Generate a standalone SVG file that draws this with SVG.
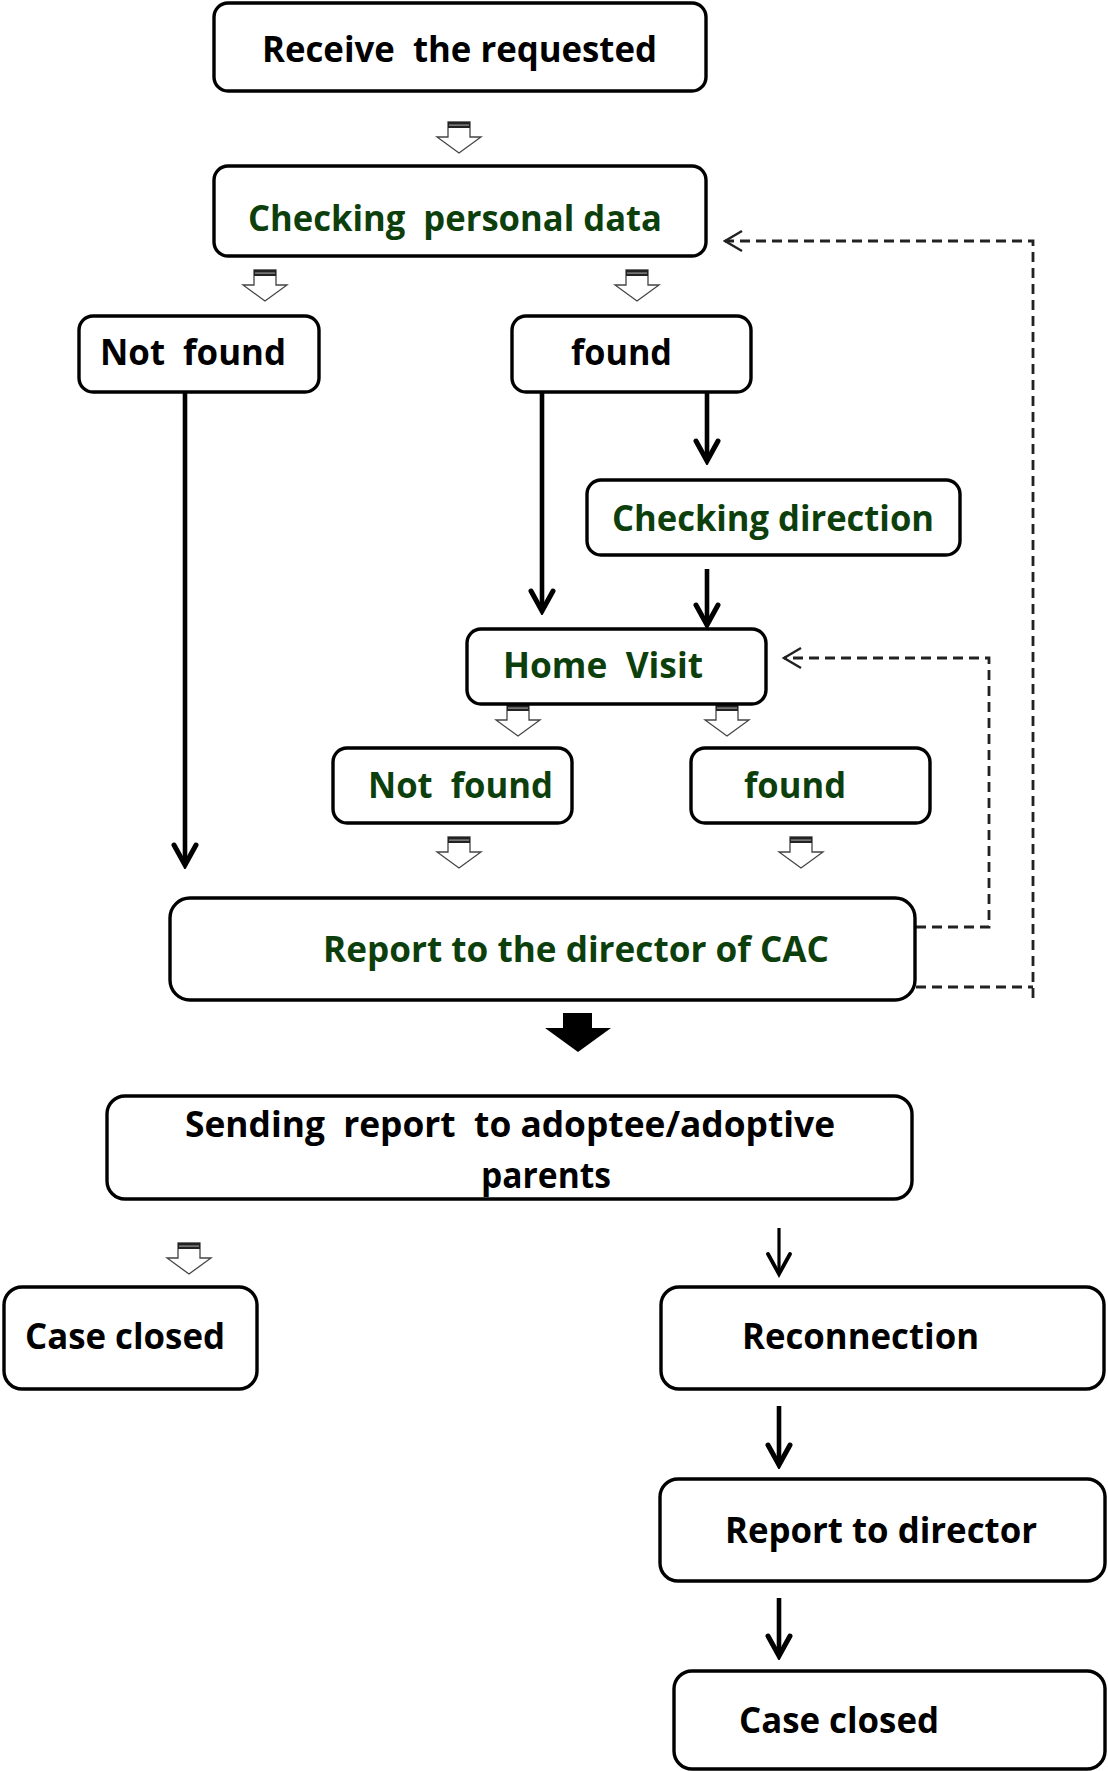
<svg xmlns="http://www.w3.org/2000/svg" xmlns:xlink="http://www.w3.org/1999/xlink" width="1108" height="1771" viewBox="0 0 1108 1771">
<style>
.box{fill:#fff;stroke:#000;stroke-width:3.4}
.t{font-family:"Open Sans","Liberation Sans",sans-serif;font-weight:700;font-size:36px;fill:#000;white-space:pre}
.g{fill:#0d3f0d}
.ln{stroke:#000;stroke-width:4.6;fill:none}
.thin{stroke:#000;stroke-width:3.2;fill:none}
.dash{stroke:#222;stroke-width:2.8;fill:none;stroke-dasharray:10 6}
</style>
<defs>
<marker id="ah" viewBox="-26 -15 30 30" refX="0" refY="0" markerWidth="30" markerHeight="30" markerUnits="userSpaceOnUse" orient="auto">
<path d="M-20,-11 L0,0 L-20,11" fill="none" stroke="#000" stroke-width="5" stroke-linejoin="miter" stroke-linecap="round"/>
</marker>
<marker id="ahs" viewBox="-26 -15 30 30" refX="0" refY="0" markerWidth="30" markerHeight="30" markerUnits="userSpaceOnUse" orient="auto">
<path d="M-20,-11 L0,0 L-20,11" fill="none" stroke="#000" stroke-width="3.8" stroke-linecap="round"/>
</marker>
<marker id="ahd" viewBox="-20 -12 22 24" refX="0" refY="0" markerWidth="22" markerHeight="24" markerUnits="userSpaceOnUse" orient="auto">
<path d="M-17,-10 L0,0 L-17,10" fill="none" stroke="#222" stroke-width="2.4" stroke-dasharray="none"/>
</marker>
<g id="ha">
<polygon points="-11,0 11,0 11,15 22,15 0,31 -22,15 -11,15" fill="#fff" stroke="#444" stroke-width="1.3"/>
<rect x="-11" y="0" width="22" height="6" fill="#222"/>
<rect x="-10" y="2.5" width="20" height="1.2" fill="#999"/>
</g>
</defs>

<g id="connectors">
<use xlink:href="#ha" x="459" y="122"/>
<use xlink:href="#ha" x="265" y="270"/>
<use xlink:href="#ha" x="637" y="270"/>
<line class="ln" x1="185" y1="392" x2="185" y2="865" marker-end="url(#ah)"/>
<line class="ln" x1="542" y1="392" x2="542" y2="611" marker-end="url(#ah)"/>
<line class="ln" x1="707" y1="392" x2="707" y2="461" marker-end="url(#ah)"/>
<line class="ln" x1="707" y1="569" x2="707" y2="625" marker-end="url(#ah)"/>
<use xlink:href="#ha" x="518" y="705"/>
<use xlink:href="#ha" x="727" y="705"/>
<use xlink:href="#ha" x="459" y="837"/>
<use xlink:href="#ha" x="801" y="837"/>
<polygon points="563,1013 592,1013 592,1028 611,1028 578,1052 545,1028 563,1028" fill="#000"/>
<use xlink:href="#ha" x="189" y="1243"/>
<line class="thin" x1="779" y1="1228" x2="779" y2="1274" marker-end="url(#ahs)"/>
<line class="ln" x1="779" y1="1406" x2="779" y2="1465" marker-end="url(#ah)"/>
<line class="ln" x1="779" y1="1598" x2="779" y2="1656" marker-end="url(#ah)"/>
<path class="dash" d="M916,927 H989 V658 H784" marker-end="url(#ahd)"/>
<path class="dash" d="M916,987 H1033"/>
<path class="dash" d="M1033,998 V241 H725" marker-end="url(#ahd)"/>
</g>

<g id="n1"><rect class="box" x="214" y="3" width="492" height="88" rx="14"/>
<text class="t" x="262" y="62" textLength="395" lengthAdjust="spacingAndGlyphs">Receive  the requested</text></g>

<g id="n2"><rect class="box" x="214" y="166" width="492" height="90" rx="14"/>
<text class="t g" x="248" y="231" textLength="414" lengthAdjust="spacingAndGlyphs">Checking  personal data</text></g>

<g id="n3"><rect class="box" x="79" y="316" width="240" height="76" rx="14"/>
<text class="t" x="100" y="365" textLength="186" lengthAdjust="spacingAndGlyphs">Not  found</text></g>

<g id="n4"><rect class="box" x="512" y="316" width="239" height="76" rx="14"/>
<text class="t" x="571" y="365" textLength="101" lengthAdjust="spacingAndGlyphs">found</text></g>

<g id="n5"><rect class="box" x="587" y="480" width="373" height="75" rx="14"/>
<text class="t g" x="612" y="531" textLength="322" lengthAdjust="spacingAndGlyphs">Checking direction</text></g>

<g id="n6"><rect class="box" x="467" y="629" width="299" height="75" rx="14"/>
<text class="t g" x="503" y="678" textLength="200" lengthAdjust="spacingAndGlyphs">Home  Visit</text></g>

<g id="n7"><rect class="box" x="333" y="748" width="239" height="75" rx="14"/>
<text class="t g" x="368" y="798" textLength="185" lengthAdjust="spacingAndGlyphs">Not  found</text></g>

<g id="n8"><rect class="box" x="691" y="748" width="239" height="75" rx="14"/>
<text class="t g" x="744" y="798" textLength="102" lengthAdjust="spacingAndGlyphs">found</text></g>

<g id="n9"><rect class="box" x="170" y="898" width="745" height="102" rx="20"/>
<text class="t g" x="323" y="962" textLength="506" lengthAdjust="spacingAndGlyphs">Report to the director of CAC</text></g>

<g id="n10"><rect class="box" x="107" y="1096" width="805" height="103" rx="18"/>
<text class="t" x="185" y="1137" textLength="650" lengthAdjust="spacingAndGlyphs">Sending  report  to adoptee/adoptive</text>
<text class="t" x="481" y="1188" textLength="130" lengthAdjust="spacingAndGlyphs">parents</text></g>

<g id="n11"><rect class="box" x="4" y="1287" width="253" height="102" rx="18"/>
<text class="t" x="25" y="1349" textLength="200" lengthAdjust="spacingAndGlyphs">Case closed</text></g>

<g id="n12"><rect class="box" x="661" y="1287" width="443" height="102" rx="18"/>
<text class="t" x="742" y="1349" textLength="237" lengthAdjust="spacingAndGlyphs">Reconnection</text></g>

<g id="n13"><rect class="box" x="660" y="1479" width="445" height="102" rx="18"/>
<text class="t" x="725" y="1543" textLength="312" lengthAdjust="spacingAndGlyphs">Report to director</text></g>

<g id="n14"><rect class="box" x="674" y="1671" width="431" height="98" rx="18"/>
<text class="t" x="739" y="1733" textLength="200" lengthAdjust="spacingAndGlyphs">Case closed</text></g>
</svg>
